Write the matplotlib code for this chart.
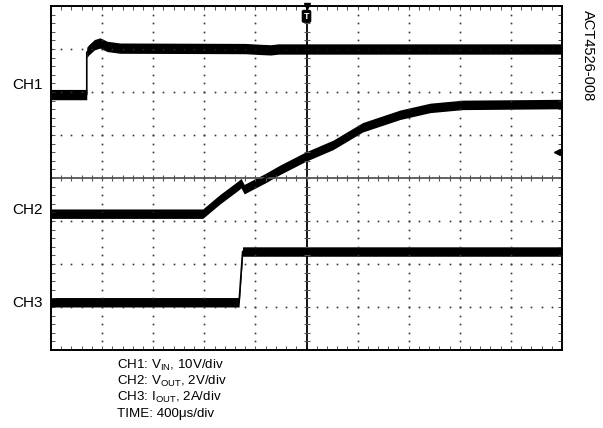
import numpy as np
import matplotlib
matplotlib.use("Agg")
import matplotlib.pyplot as plt

plt.rcParams['font.family'] = ['Liberation Sans', 'DejaVu Sans']
plt.rcParams['mathtext.fontset'] = 'custom'
plt.rcParams['mathtext.rm'] = 'Liberation Sans'

# scope traces, in divisions (x: 0..10, y: 0..8)
ch1_x = [0, 0.70, 0.70, 0.74, 0.85, 0.96, 1.1, 1.35, 3.8, 4.1, 4.3, 4.45, 10]
ch1_y = [5.94, 5.94, 6.92, 6.98, 7.10, 7.14, 7.06, 7.02, 7.01, 6.99, 6.98, 7.00, 7.00]

ch2_x = [0, 2.97, 3.3, 3.66, 3.72, 3.78, 4.2, 4.48, 4.99, 5.52, 6.1, 6.83, 7.42, 8.06, 10]
ch2_y = [3.17, 3.17, 3.5, 3.82, 3.88, 3.74, 4.0, 4.19, 4.50, 4.77, 5.18, 5.47, 5.63, 5.70, 5.72]

ch3_x = [0, 3.68, 3.75, 10]
ch3_y = [1.11, 1.11, 2.29, 2.29]

ch_labels = ["CH1", "CH2", "CH3"]
ch_label_y = [6.06, 3.17, 1.0]

notes = [r"CH1: V$_{\mathrm{IN}}$, 10V/div",
         r"CH2: V$_{\mathrm{OUT}}$, 2V/div",
         r"CH3: I$_{\mathrm{OUT}}$, 2A/div",
         "TIME: 400\u03bcs/div"]

fig = plt.figure(figsize=(6.03, 4.28), dpi=100)
ax = fig.add_axes([51/603, 78/428, 511/603, 344/428])
ax.set_xlim(0, 10)
ax.set_ylim(0, 8)

# dotted graticule
for gx in range(1, 10):
    if gx == 5:
        continue
    yy = np.arange(0, 8.01, 0.2)
    ax.plot(np.full_like(yy, gx), yy, 's', ms=1.2, color='#333333', mew=0)
for gy in range(1, 8):
    if gy == 4:
        continue
    xx = np.arange(0, 10.01, 0.2)
    ax.plot(xx, np.full_like(xx, gy), 's', ms=1.2, color='#333333', mew=0)

# centre cross with ticks
ax.axvline(5, color='black', lw=1.3)
ax.axhline(4, color='#555555', lw=1.3)
tx = np.arange(0.2, 10, 0.2)
ax.plot(tx, np.full_like(tx, 4), '|', ms=5, color='#555555', mew=0.8)
ty = np.arange(0.2, 8, 0.2)
ax.plot(np.full_like(ty, 5), ty, '_', ms=5, color='#555555', mew=0.8)

# traces: thin line plus a band for the noise width
for xs, ys, hw in [(ch1_x, ch1_y, 0.12), (ch2_x, ch2_y, 0.11), (ch3_x, ch3_y, 0.11)]:
    xs = np.array(xs)
    ys = np.array(ys)
    ax.fill_between(xs, ys - hw, ys + hw, color='black', lw=0)
    ax.plot(xs, ys, color='black', lw=1.2)

# trigger and level markers
ax.plot([5], [8], 'v', color='black', ms=5, clip_on=False)
ax.text(5, 7.76, "T", color='white', fontsize=6.5, fontweight='bold', ha='center', va='center',
        bbox=dict(boxstyle='round,pad=0.15', fc='black', ec='black'))
ax.plot([9.9], [4.6], '<', color='black', ms=4)
ax.plot([9.9, 10], [4.6, 4.6], color='black', lw=0.8)

# frame ticks
ax.set_xticks(range(0, 11))
ax.set_yticks(range(0, 9))
ax.set_xticks(np.arange(0, 10.01, 0.2), minor=True)
ax.set_yticks(np.arange(0, 8.01, 0.2), minor=True)
ax.tick_params(which='both', direction='in', top=True, right=True,
               labelbottom=False, labelleft=False, length=3, width=0.6, color='#333333')
for s in ax.spines.values():
    s.set_linewidth(1.4)

for lab, ly in zip(ch_labels, ch_label_y):
    ax.text(-0.16, ly, lab, ha='right', va='baseline', fontsize=11, clip_on=False)

fig.text(588/603, 1 - 10/428, "ACT4526-008", rotation=-90, ha='center', va='top', fontsize=10.5)

for i, line in enumerate(notes):
    fig.text(117/603, (428 - 369 - i*16)/428, line, ha='left', va='baseline', fontsize=9.6)

fig.savefig("out.png", dpi=100)
